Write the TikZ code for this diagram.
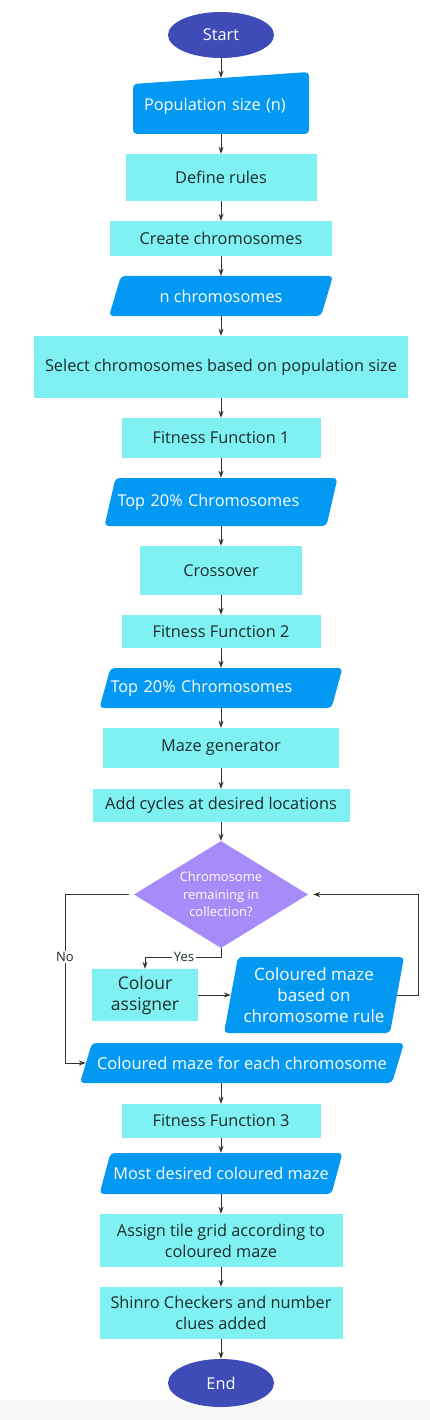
\documentclass[tikz,border=0pt]{standalone}
\usepackage{fontspec}
\setmainfont{Open Sans}
\usetikzlibrary{shapes.geometric,arrows.meta,calc}
\definecolor{boxc}{HTML}{80F1F3}
\definecolor{parac}{HTML}{0399F3}
\definecolor{termc}{HTML}{3F4CB8}
\definecolor{diac}{HTML}{A78BF8}
\definecolor{linec}{HTML}{333333}
\definecolor{txtc}{HTML}{1E2B2B}
\definecolor{bandc}{HTML}{F7F7F7}
\newcommand{\paraShape}[5]{%
  \fill[parac, rounded corners=4pt] ({#1-#3/2+#5},{#2-#4/2}) -- ({#1+#3/2},{#2-#4/2}) -- ({#1+#3/2-#5},{#2+#4/2}) -- ({#1-#3/2},{#2+#4/2}) -- cycle;}
\tikzset{
  term/.style={ellipse, fill=termc, text=white, minimum width=106, minimum height=46, inner sep=0},
  proc/.style={rectangle, fill=boxc, text=txtc, inner sep=0, align=center},
  io/.style={rectangle, text=white, inner sep=0},
  arr/.style={draw=linec, line width=0.9pt, -{Stealth[length=7pt,width=5pt]}},
  lbl/.style={fill=white, text=txtc, inner sep=1.5pt, font=\fontsize{13}{16}\selectfont},
}
\begin{document}
\begin{tikzpicture}[x=1pt,y=-1pt,font=\fontsize{16.3}{21}\selectfont]
\useasboundingbox (0,0) rectangle (430,1420);
\fill[white] (0,0) rectangle (430,1400);
\fill[bandc] (0,1400) rectangle (430,1420);

\node[term] (start) at (221,35) {Start};

\fill[parac, rounded corners=4pt] (133,84) -- (309,72) -- (309,134) -- (133,134) -- cycle;
\node[io, minimum height=56, text width=154, align=left] (pop) at (221,106) {Population size (n)};

\node[proc, minimum width=191, minimum height=47] (define) at (221,177.5) {Define rules};
\node[proc, minimum width=222, minimum height=35] (create) at (221,238.5) {Create chromosomes};

\paraShape{221}{296}{224}{40}{12}
\node[io, minimum width=212, minimum height=40] (nchrom) at (221,296) {n chromosomes};

\node[proc, minimum width=374, minimum height=62] (select) at (221,367) {Select chromosomes based on population size};
\node[proc, minimum width=199, minimum height=40] (ff1) at (221,438) {Fitness Function 1};

\paraShape{221}{502}{233}{48}{11}
\node[io, minimum height=48, text width=207, align=left] (top1) at (221,502) {Top 20\% Chromosomes};

\node[proc, minimum width=162, minimum height=49] (cross) at (221,570.5) {Crossover};
\node[proc, minimum width=199, minimum height=33] (ff2) at (221,631.5) {Fitness Function 2};

\paraShape{221}{688}{243}{40}{11}
\node[io, minimum height=40, text width=221, align=left] (top2) at (221,688) {Top 20\% Chromosomes};

\node[proc, minimum width=236, minimum height=40] (maze) at (221,748) {Maze generator};
\node[proc, minimum width=257, minimum height=33] (cycles) at (221,805.5) {Add cycles at desired locations};

\node[diamond, fill=diac, text=white, minimum width=174, minimum height=107, inner sep=0, aspect=1.6, align=center, font=\fontsize{13}{17.5}\selectfont] (dia) at (221,894.5) {Chromosome\\remaining in\\collection?};

\node[proc, minimum width=106, minimum height=52, font=\fontsize{17.5}{21}\selectfont] (colour) at (145,995) {Colour\\assigner};

\paraShape{314}{995}{180}{76}{14}
\node[io, minimum width=166, minimum height=76, align=center, font=\fontsize{17}{21}\selectfont] (cmaze) at (314,995) {Coloured maze\\based on\\chromosome rule};

\paraShape{242}{1063}{324}{40}{12}
\node[io, minimum width=312, minimum height=40, font=\fontsize{16.5}{20}\selectfont] (ceach) at (242,1063) {Coloured maze for each chromosome};

\node[proc, minimum width=199, minimum height=34] (ff3) at (221,1121) {Fitness Function 3};

\paraShape{221}{1173.5}{243}{41}{11}
\node[io, minimum width=232, minimum height=41] (most) at (221,1173.5) {Most desired coloured maze};

\node[proc, minimum width=243, minimum height=53] (assign) at (221,1240.5) {Assign tile grid according to\\coloured maze};
\node[proc, minimum width=243, minimum height=52] (shinro) at (221,1313) {Shinro Checkers and number\\clues added};

\node[term, minimum height=48] (end) at (221,1383) {End};

% main column
\draw[arr] (start) -- (pop);
\draw[arr] (pop) -- (define);
\draw[arr] (define) -- (create);
\draw[arr] (create) -- (nchrom);
\draw[arr] (nchrom) -- (select);
\draw[arr] (select) -- (ff1);
\draw[arr] (ff1) -- (top1);
\draw[arr] (top1) -- (cross);
\draw[arr] (cross) -- (ff2);
\draw[arr] (ff2) -- (top2);
\draw[arr] (top2) -- (maze);
\draw[arr] (maze) -- (cycles);
\draw[arr] (cycles) -- (dia);
\draw[arr] (ceach.south -| ff3.north) -- (ff3);
\draw[arr] (ff3) -- (most);
\draw[arr] (most) -- (assign);
\draw[arr] (assign) -- (shinro);
\draw[arr] (shinro) -- (end);

% No branch
\coordinate (nocorner) at (65,894.5);
\draw[arr, shorten <=5pt] (dia.west) -- (nocorner) |- (ceach.west);
\node[lbl] (nolbl) at (65,957) {No};

% Yes branch
\coordinate (yturn) at (221,957);
\draw[arr] (dia.south) -- (yturn) -| (colour.north);
\node[lbl] (yeslbl) at (184,957) {Yes};

\draw[arr] (colour.east) -- (cmaze.west);

% loop back
\coordinate (loopA) at (418,995);
\coordinate (loopB) at (418,894.5);
\draw[arr, shorten >=5pt] (cmaze.east) -- (loopA) -- (loopB) -- (dia.east);
\end{tikzpicture}
\end{document}
